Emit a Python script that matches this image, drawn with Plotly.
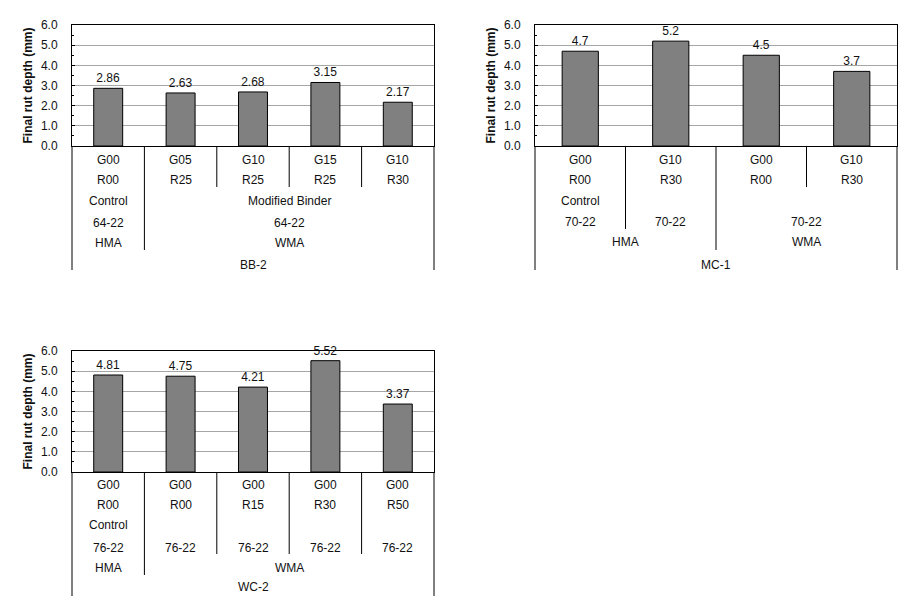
import plotly.graph_objects as go

# page body has an 8px margin; figure sized to fit inside the window
OFF = 8
W, H = 900, 595

# ---------------- data ----------------
bb2_g = ["G00", "G05", "G10", "G15", "G10"]
bb2_r = ["R00", "R25", "R25", "R25", "R30"]
bb2_vals = [2.86, 2.63, 2.68, 3.15, 2.17]

mc1_g = ["G00", "G10", "G00", "G10"]
mc1_r = ["R00", "R30", "R00", "R30"]
mc1_vals = [4.7, 5.2, 4.5, 3.7]

wc2_g = ["G00", "G00", "G00", "G00", "G00"]
wc2_r = ["R00", "R00", "R15", "R30", "R50"]
wc2_vals = [4.81, 4.75, 4.21, 5.52, 3.37]

y_ticks = [0, 1, 2, 3, 4, 5, 6]
y_title = "Final rut depth (mm)"

FONT = "Arial, 'Liberation Sans', sans-serif"
TXT = "#111111"


def px(x):
    return (x - OFF) / W


def py(y):
    return 1 - (y - OFF) / H


fig = go.Figure()
annotations = []
shapes = []

# panel geometry (screen pixels): x0, x1, ytop, yzero
panels = [
    dict(key="", x0=72, x1=434, yt=25, yz=146, g=bb2_g, r=bb2_r, v=bb2_vals),
    dict(key="2", x0=535, x1=897, yt=25, yz=146, g=mc1_g, r=mc1_r, v=mc1_vals),
    dict(key="3", x0=72, x1=434, yt=351, yz=472, g=wc2_g, r=wc2_r, v=wc2_vals),
]

for p in panels:
    k = p["key"]
    n = len(p["v"])
    fig.add_trace(go.Bar(
        x=list(range(n)), y=p["v"], width=0.4,
        xaxis="x" + k, yaxis="y" + k,
        marker=dict(color="#808080", line=dict(color="#000000", width=1)),
        text=[str(v) for v in p["v"]], textposition="outside",
        textfont=dict(family=FONT, size=12, color=TXT),
        cliponaxis=False, showlegend=False, hoverinfo="skip",
    ))
    fig.layout["xaxis" + k] = dict(
        domain=[px(p["x0"]), px(p["x1"])], anchor="y" + k,
        range=[-0.5, n - 0.5], showticklabels=False, ticks="",
        showgrid=False, zeroline=False, showline=True, automargin=False,
        linecolor="#000000", linewidth=1, mirror=True, fixedrange=True,
    )
    fig.layout["yaxis" + k] = dict(
        domain=[py(p["yz"]), py(p["yt"])], anchor="x" + k,
        range=[0, 6], tickvals=y_ticks, tickformat=".1f",
        ticks="inside", ticklen=3, tickcolor="#000000",
        minor=dict(ticks="inside", ticklen=2, dtick=0.5, tickcolor="#000000"),
        showgrid=True, gridcolor="#a6a6a6", gridwidth=1, zeroline=False,
        showline=True, linecolor="#000000", linewidth=1, mirror=True,
        tickfont=dict(family=FONT, size=12, color=TXT),
        ticklabelstandoff=11, automargin=False,
        title=dict(text="<b>" + y_title + "</b>", standoff=5,
                   font=dict(family=FONT, size=12, color=TXT)),
        fixedrange=True,
    )
    # G and R rows
    for i in range(n):
        annotations.append(dict(x=i, y=py(160 if k != "3" else 485), xref="x" + k, yref="paper",
                                text=p["g"][i], showarrow=False, yanchor="middle",
                                font=dict(family=FONT, size=12, color=TXT)))
        annotations.append(dict(x=i, y=py(180 if k != "3" else 505), xref="x" + k, yref="paper",
                                text=p["r"][i], showarrow=False, yanchor="middle",
                                font=dict(family=FONT, size=12, color=TXT)))
    # outer vertical lines (left/right) extending into the table
    ybot = 270 if k != "3" else 596
    for xd in (0, 1):
        shapes.append(dict(type="line", xref="x%s domain" % k if k else "x domain", yref="paper",
                           x0=xd, x1=xd, y0=py(p["yz"]), y1=py(ybot),
                           line=dict(color="#000000", width=1)))


def label(k, x, ypix, text):
    annotations.append(dict(x=x, y=py(ypix), xref="x" + k, yref="paper", text=text,
                            showarrow=False, yanchor="middle",
                            font=dict(family=FONT, size=12, color=TXT)))


def sep(k, x, ytop, ybot):
    shapes.append(dict(type="line", xref="x" + k, yref="paper", x0=x, x1=x,
                       y0=py(ytop), y1=py(ybot), line=dict(color="#000000", width=1)))


# ---- BB-2 table ----
label("", 0, 201, "Control")
label("", 2.5, 201, "Modified Binder")
label("", 0, 223, "64-22")
label("", 2.5, 223, "64-22")
label("", 0, 243, "HMA")
label("", 2.5, 243, "WMA")
label("", 2, 265, "BB-2")
sep("", 0.5, 146, 250)
for xs in (1.5, 2.5, 3.5):
    sep("", xs, 146, 187)

# ---- MC-1 table ----
label("2", 0, 201, "Control")
label("2", 0, 222, "70-22")
label("2", 1, 222, "70-22")
label("2", 2.5, 222, "70-22")
label("2", 0.5, 242, "HMA")
label("2", 2.5, 242, "WMA")
label("2", 1.5, 265, "MC-1")
sep("2", 0.5, 146, 229)
sep("2", 1.5, 146, 250)
sep("2", 2.5, 146, 187)

# ---- WC-2 table ----
label("3", 0, 525, "Control")
for i in range(5):
    label("3", i, 548, "76-22")
label("3", 0, 568, "HMA")
label("3", 2.5, 568, "WMA")
label("3", 2, 587, "WC-2")
sep("3", 0.5, 472, 575)
for xs in (1.5, 2.5, 3.5):
    sep("3", xs, 472, 554)

fig.update_layout(
    width=W, height=H, margin=dict(l=0, r=0, t=0, b=0, autoexpand=False),
    paper_bgcolor="#ffffff", plot_bgcolor="#ffffff",
    font=dict(family=FONT, size=12, color=TXT),
    annotations=annotations, shapes=shapes, showlegend=False,
)

fig.write_html("out.html")
